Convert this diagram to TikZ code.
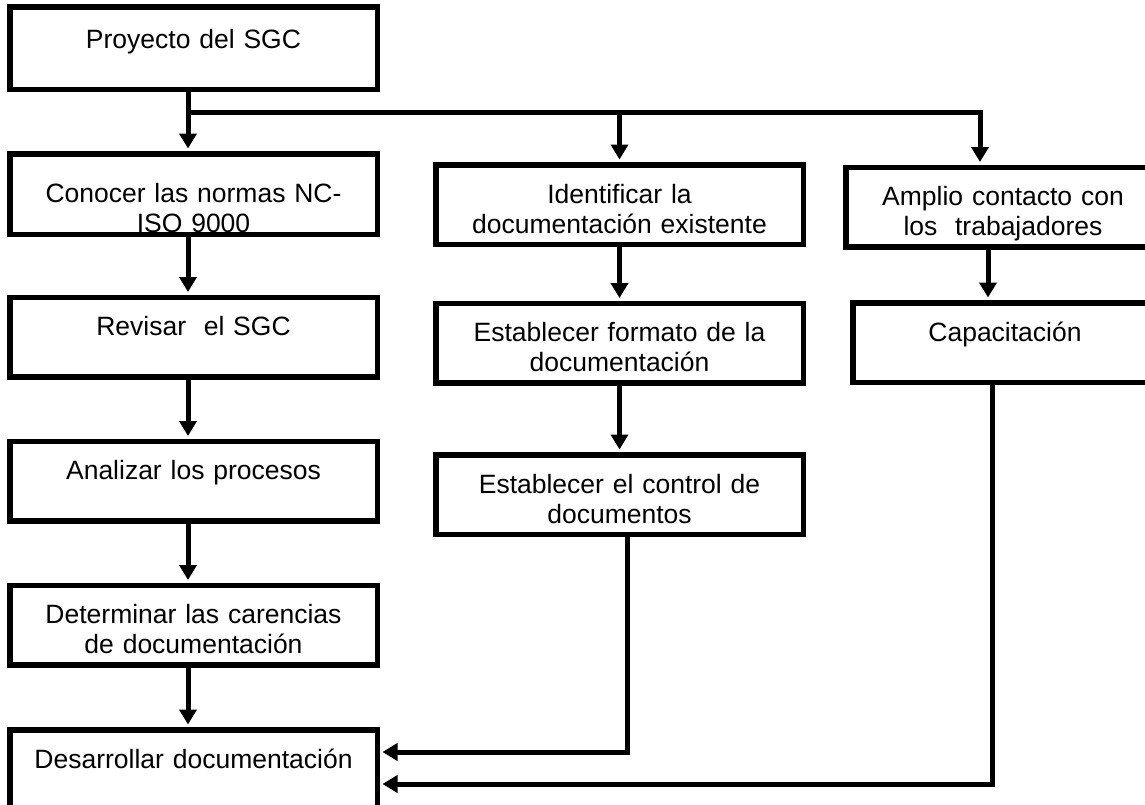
\documentclass[tikz,border=0pt]{standalone}
\usepackage{fontspec}
\setmainfont{Liberation Sans}
\usetikzlibrary{arrows.meta}

\begin{document}
\begin{tikzpicture}
	  [x=1pt,y=-1pt,
	   stepbox/.style={draw,line width=5.5pt,inner xsep=4pt,inner ysep=0pt,
	     text width=359.5pt,align=center,text height=38.25pt,text depth=41.25pt,
	     font=\fontsize{26.5}{30}\selectfont},
	   arr/.style={line width=5pt,-{Triangle[width=17pt,length=15pt]},shorten >=2.5pt}]
	\path[use as bounding box,fill=white] (0,0) rectangle (1145,804);
	\clip (0,0) rectangle (1145,804);

	\node[stepbox,text height=41.25pt,text depth=41.25pt] (n1) at (193.5,48) {Proyecto del SGC};
	\node[stepbox,text height=48.25pt,text depth=32.25pt] (n2) at (193.5,194) {Conocer las normas NC-\\ISO 9000};
	\node[stepbox] (n3) at (193.5,337) {Revisar\ \ el SGC};
	\node[stepbox] (n4) at (193.5,481) {Analizar los procesos};
	\node[stepbox] (n5) at (193.5,625) {Determinar las carencias\\de documentación};
	\node[stepbox] (n6) at (193.5,769.5) {Desarrollar documentación};
	\node[stepbox] (n7) at (619.5,204.5) {Identificar la\\documentación existente};
	\node[stepbox] (n8) at (619.5,343) {Establecer formato de la\\documentación};
	\node[stepbox] (n9) at (619.5,494.5) {Establecer el control de\\documentos};
	\node[stepbox,text width=306.5pt] (n10) at (1003,207) {Amplio contacto con\\los\ \ trabajadores};
	\node[stepbox,text width=296.5pt] (n11) at (1005,342.5) {Capacitación};

	\coordinate (fork) at (188,112);
	\coordinate (r1) at (980,112);
	\coordinate (r2) at (988,0);
	\coordinate (d1) at (627,752);
	\coordinate (d2) at (992,784);

	\draw[arr] (n1.south -| fork) -- (n2.north -| fork);
	\draw[arr] (fork) -- (r1) -- (n10.north -| r1);
	\draw[arr] (fork -| n7) -- (n7);
	\foreach \from/\to in {n2/n3,n3/n4,n4/n5,n5/n6}
	  \draw[arr] (\from.south -| fork) -- (\to.north -| fork);
	\foreach \from/\to in {n7/n8,n8/n9}
	  \draw[arr] (\from) -- (\to);
	\draw[arr] (n10.south -| r2) -- (n11.north -| r2);
	\draw[arr] (n9.south -| d1) |- (n6.east |- d1);
	\draw[arr] (n11.south -| d2) |- (n6.east |- d2);
\end{tikzpicture}
\end{document}
